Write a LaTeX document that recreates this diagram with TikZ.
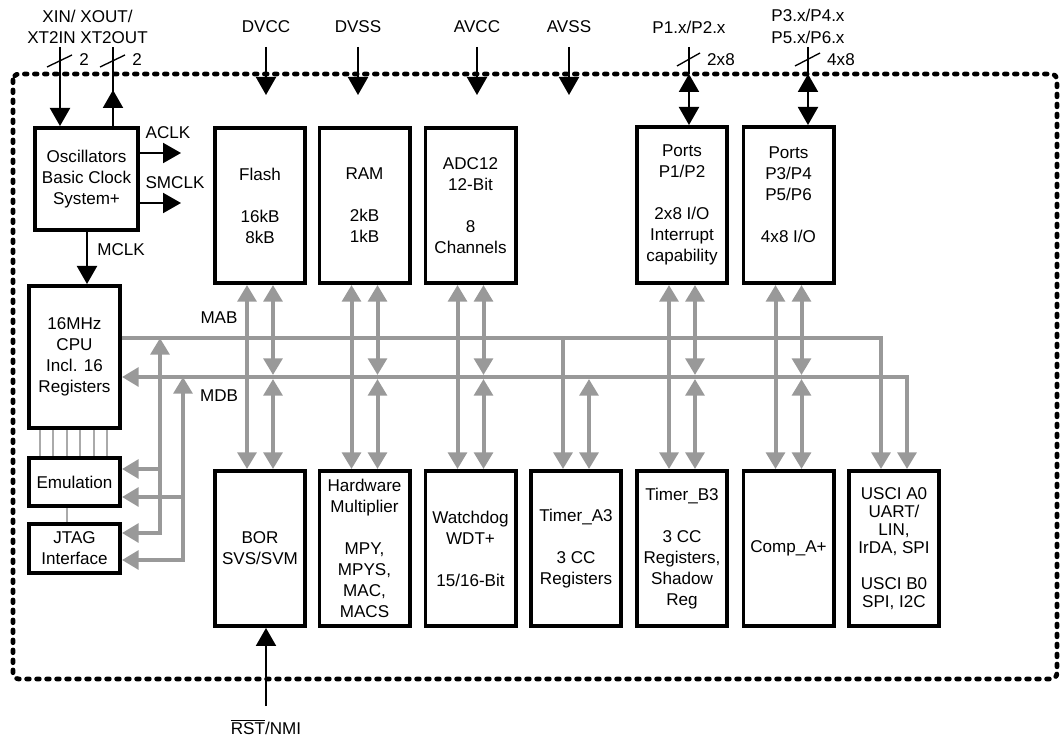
\documentclass[tikz,border=0pt]{standalone}
\usepackage{fontspec}
\setmainfont{Liberation Sans}
\usetikzlibrary{arrows.meta,calc}
\definecolor{busgray}{RGB}{153,153,153}
\definecolor{thingray}{RGB}{170,170,170}
\newcommand{\lblfont}{\fontsize{12.8}{15.75}\selectfont}
\newcommand{\uscifont}{\fontsize{12.8}{13.5}\selectfont}
\begin{document}
\begin{tikzpicture}[x=0.75pt,y=-0.75pt,
  btip/.tip={Triangle[width=15pt,length=13.5pt]},
  gtip/.tip={Triangle[width=14pt,length=12.5pt]},
  box/.style={draw, line width=2.9pt, fill=white, align=center, inner sep=0pt, font=\lblfont},
  colbox/.style={box, minimum width=67.6pt, minimum height=116.3pt},
  lab/.style={font=\lblfont, inner sep=0pt, align=center},
  bline/.style={line width=1.5pt, black},
  gbus/.style={line width=3pt, busgray},
  thinbus/.style={line width=1.2pt, thingray},
  slash/.style={line width=1pt, black},
  chip/.style={line width=3.6pt, dash pattern=on 2pt off 5.5pt, line cap=round, rounded corners=4.5pt}]
\useasboundingbox (0,0) rectangle (1061,738);
% chip outline
\draw[chip] (13,74) rectangle (1057,679);

% left column boxes
\node[box, minimum width=77.3pt, minimum height=76.6pt] (osc) at (86.5,179) {Oscillators\\Basic Clock\\System+};
\node[box, minimum width=68.3pt, minimum height=106.6pt] (cpu) at (74.5,357) {16MHz\\CPU\\Incl. 16\\Registers};
\node[box, minimum width=68.3pt, minimum height=36.1pt] (emu) at (74.5,482) {Emulation};
\node[box, minimum width=68.3pt, minimum height=36.8pt] (jtag) at (74.5,548.5) {JTAG\\Interface};

% top row
\node[colbox] (flash) at (260,205.5) {Flash\\ ~\\16kB\\8kB};
\node[colbox] (ram) at (364.5,205.5) {RAM\\ ~\\2kB\\1kB};
\node[colbox] (adc) at (470.5,205.5) {ADC12\\12-Bit\\ ~\\8\\Channels};
\node[colbox, minimum height=117.1pt] (p12) at (682,205) {Ports\\P1/P2\\ ~\\2x8 I/O\\Interrupt\\capability};
\node[colbox, minimum height=117.1pt] (p36) at (788.5,205) {Ports\\P3/P4\\P5/P6\\ ~\\4x8 I/O\\ ~};

% bottom row
\node[colbox] (bor) at (260,548.5) {BOR\\SVS/SVM};
\node[colbox] (hwm) at (364.5,548.5) {Hardware\\Multiplier\\ ~\\MPY,\\MPYS,\\MAC,\\MACS};
\node[colbox] (wdt) at (470.5,548.5) {Watchdog\\WDT+\\ ~\\15/16-Bit};
\node[colbox] (ta3) at (576,548.5) {Timer\_A3\\ ~\\3 CC\\Registers};
\node[colbox] (tb3) at (682,548.5) {Timer\_B3\\ ~\\3 CC\\Registers,\\Shadow\\Reg};
\node[colbox] (comp) at (788.5,548.5) {Comp\_A+};
\node[colbox, font=\uscifont] (usci) at (894,548.5) {USCI A0\\UART/\\LIN,\\IrDA, SPI\\ ~\\USCI B0\\SPI, I2C};

% bus reference lines
\coordinate (mab) at (0,338);
\coordinate (mdb) at (0,377);
\node[lab] (mablbl) at (219,318) {MAB};
\node[lab] (mdblbl) at (219,396) {MDB};

% MAB and MDB
\draw[gbus,-{gtip}] (cpu.east |- mab) -| ($(usci.north)+(-13,0)$);
\draw[gbus,{gtip}-{gtip}] (cpu.east |- mdb) -| ($(usci.north)+(13,0)$);

% column bus arrows (top box to bottom box)
\foreach \t/\b in {flash/bor, ram/hwm, adc/wdt, p12/tb3, p36/comp}{
  \path ($(\t.south)+(-13,0)$) coordinate (tl) ($(\b.north)+(-13,0)$) coordinate (bl);
  \path ($(\t.south)+(13,0)$) coordinate (tr) ($(\b.north)+(13,0)$) coordinate (br);
  \draw[gbus,{gtip}-{gtip}] (tl) -- (bl);
  \draw[gbus,{gtip}-{gtip}, shorten >=1.5pt] (tr) -- (tr |- mdb);
  \draw[gbus,{gtip}-{gtip}, shorten <=1.5pt] (br |- mdb) -- (br);
}
% Timer_A3
\path ($(ta3.north)+(-13,0)$) coordinate (tal) ($(ta3.north)+(13,0)$) coordinate (tar);
\draw[gbus,-{gtip}] (tal |- mab) -- (tal);
\draw[gbus,{gtip}-{gtip}, shorten <=1.5pt] (tar |- mdb) -- (tar);

% Emulation / JTAG bus
\coordinate (va) at (160,0);
\coordinate (vb) at (183,0);
\draw[gbus,{gtip}-{gtip}] (jtag.east |- 0,533) -| (va |- mab);
\draw[gbus,{gtip}-{gtip}] (jtag.east |- 0,560) -| (vb |- mdb);
\draw[gbus,-{gtip}] (va |- 0,469) -- (emu.east |- 0,469);
\draw[gbus,-{gtip}] (vb |- 0,497) -- (emu.east |- 0,497);

% thin lines CPU - emulation - JTAG
\foreach \x in {40,53,67,80,94,107}{
  \draw[thinbus] (cpu.south -| \x,0) -- (emu.north -| \x,0);
}
\draw[thinbus] (emu.south -| 67,0) -- (jtag.north -| 67,0);

% oscillator pins
\node[lab] (xlbl) at (87.5,27) {XIN/ XOUT/\\XT2IN XT2OUT};
\coordinate (xinT) at (60,47);
\coordinate (xoutT) at (113,47);
\coordinate (xoutH) at (113,90);
\draw[bline,-{btip}] (xinT) -- (osc.north -| xinT);
\draw[bline] (osc.north -| xoutT) -- (xoutT);
\draw[bline,-{btip}] (osc.north -| xoutT) -- (xoutH);
\draw[slash] (47,67) -- (72,55);
\draw[slash] (100,67) -- (125,55);
\node[lab] (n2a) at (84,60) {2};
\node[lab] (n2b) at (137,60) {2};

% clocks
\coordinate (aclk) at (181,153);
\coordinate (smclk) at (181,203);
\draw[bline,-{btip}] (osc.east |- aclk) -- (aclk);
\draw[bline,-{btip}] (osc.east |- smclk) -- (smclk);
\node[lab] (aclklbl) at (168,133) {ACLK};
\node[lab] (smclklbl) at (175,183) {SMCLK};
\draw[bline,-{btip}] (osc.south -| 87,0) -- (cpu.north -| 87,0);
\node[lab] (mclklbl) at (121,250) {MCLK};

% power pins
\foreach \nm/\x/\txt in {dvcc/266/DVCC, dvss/358/DVSS, avcc/477/AVCC, avss/569/AVSS}{
  \node[lab] (\nm) at (\x,27) {\txt};
  \coordinate (\nm T) at (\x,47);
  \coordinate (\nm B) at (\x,95);
  \draw[bline,-{btip}] (\nm T) -- (\nm B);
}

% ports pins
\node[lab] (p12lbl) at (689,27) {P1.x/P2.x};
\coordinate (p12T) at (689,47);
\coordinate (p12B) at (689,74);
\draw[bline] (p12T) -- (p12B);
\draw[bline,{btip}-{btip}] (p12B) -- (p12.north -| p12B);
\draw[slash] (677,66) -- (700,53);
\node[lab] (p12n) at (721,60) {2x8};

\node[lab, font=\fontsize{12.8}{16.5}\selectfont] (p36lbl) at (808,26) {P3.x/P4.x\\P5.x/P6.x};
\coordinate (p36T) at (808,47);
\coordinate (p36B) at (808,74);
\draw[bline] (p36T) -- (p36B);
\draw[bline,{btip}-{btip}] (p36B) -- (p36.north -| p36B);
\draw[slash] (795,66) -- (820,53);
\node[lab] (p36n) at (841,60) {4x8};

% reset
\coordinate (rst) at (266,706);
\draw[bline,-{btip}] (rst) -- (bor.south -| rst);
\node[lab] (rstlbl) at (266,727) {\(\overline{\hbox{RST}}\)/NMI};
\end{tikzpicture}
\end{document}
